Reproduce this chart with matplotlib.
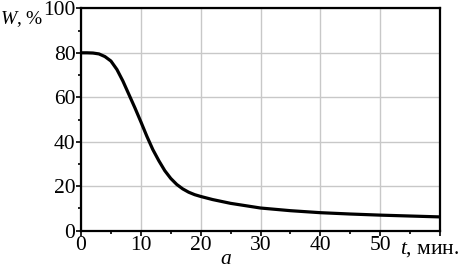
import matplotlib
matplotlib.use("Agg")
import matplotlib.pyplot as plt
from matplotlib.ticker import MultipleLocator
from matplotlib import font_manager as fm

t_min = [0, 1, 2, 3, 4, 5, 6, 7, 8, 9, 10, 11, 12, 13, 14, 15, 16, 17, 18, 19,
         20, 22, 25, 30, 35, 40, 45, 50, 55, 60]
w_pct = [80, 80, 79.9, 79.5, 78.3, 76.3, 72.5, 67.3, 61.3, 55.3, 49, 42.5, 36.5,
         31.5, 27, 23.5, 20.8, 18.8, 17.3, 16.2, 15.4, 14.0, 12.3, 10.2, 9.0,
         8.1, 7.5, 7.0, 6.6, 6.2]
x_ticks = [0, 10, 20, 30, 40, 50, 60]
x_labels = ["0", "10", "20", "30", "40", "50", ""]
y_ticks = [0, 20, 40, 60, 80, 100]

names = sorted({f.name for f in fm.fontManager.ttflist})
serif = None
for cand in ['Liberation Serif', 'Times New Roman', 'Nimbus Roman', 'DejaVu Serif']:
    if cand in names:
        serif = cand
        break
if serif is None:
    serif = 'DejaVu Serif'

plt.rcParams['font.family'] = [serif, 'DejaVu Serif']
plt.rcParams['mathtext.fontset'] = 'custom'
plt.rcParams['mathtext.it'] = serif + ':italic'
plt.rcParams['mathtext.rm'] = serif

FS = 15.5

fig = plt.figure(figsize=(4.59, 2.69), dpi=100)
ax = fig.add_axes([0.1765, 0.1424, 0.9586 - 0.1765, 0.969 - 0.1424])

ax.plot(t_min, w_pct, color='black', lw=2.3, solid_capstyle='butt',
        solid_joinstyle='round', zorder=3)

ax.set_xlim(0, 60)
ax.set_ylim(0, 100)
ax.set_xticks(x_ticks)
ax.set_xticklabels(x_labels)
ax.set_yticks(y_ticks)
ax.xaxis.set_minor_locator(MultipleLocator(5))
ax.yaxis.set_minor_locator(MultipleLocator(10))
ax.tick_params(which='major', direction='out', length=3.5, width=1.2,
               labelsize=FS, pad=0.5, colors='black')
ax.tick_params(which='minor', direction='out', length=2.2, width=1.2)
ax.grid(True, which='major', color='#c8c8c8', lw=1.0, zorder=0)
for s in ax.spines.values():
    s.set_linewidth(1.6)
    s.set_color('black')

fig.text(0.0, 0.93, r"$W$, %", fontsize=14, ha='left', va='center')
fig.text(1.0, 0.1424 - 0.07, r"$t$, мин.", fontsize=FS, ha='right', va='center')
fig.text(0.492, 0.037, r"$a$", fontsize=FS, ha='center', va='center')

fig.savefig("out.png", dpi=100)
